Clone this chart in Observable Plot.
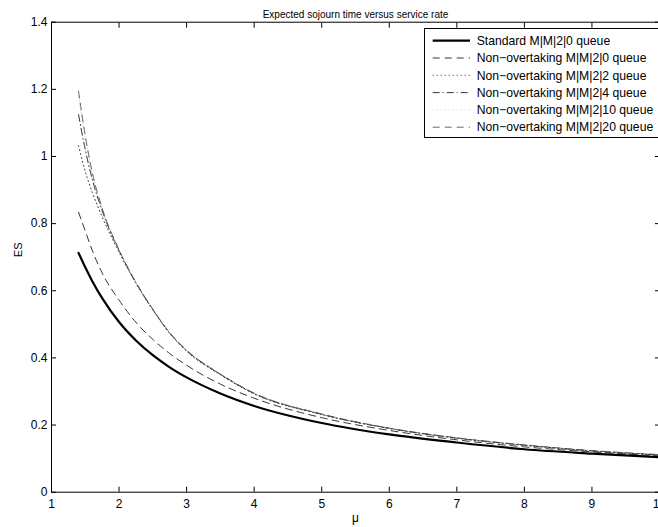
<!DOCTYPE html>
<html><head><meta charset="utf-8">
<script src="https://cdn.jsdelivr.net/npm/d3@7"></script>
<script src="https://cdn.jsdelivr.net/npm/@observablehq/plot@0.6"></script>
<style>html,body{margin:0;padding:0;background:#fff;overflow:hidden} svg{display:block}</style>
</head><body><div id="chart"></div>
<script>
// ---- data ----
const title = "Expected sojourn time versus service rate";
const xLabel = "μ";
const yLabel = "ES";
const xTicks = [1, 2, 3, 4, 5, 6, 7, 8, 9, 10];
const yTicks = [0, 0.2, 0.4, 0.6, 0.8, 1, 1.2, 1.4];
const seriesNames = [
  "Standard M|M|2|0 queue",
  "Non\u2212overtaking M|M|2|0 queue",
  "Non\u2212overtaking M|M|2|2 queue",
  "Non\u2212overtaking M|M|2|4 queue",
  "Non\u2212overtaking M|M|2|10 queue",
  "Non\u2212overtaking M|M|2|20 queue"
];
const mu = [1.4, 1.5, 1.6, 1.75, 2, 2.25, 2.5, 2.75, 3, 3.5, 4, 5, 6, 7, 8, 9, 10];
const esStandard = [0.713, 0.670, 0.630, 0.578, 0.507, 0.452, 0.408, 0.372, 0.342, 0.294, 0.257, 0.206, 0.172, 0.148, 0.128, 0.115, 0.104];
const esNO0  = [0.834, 0.778, 0.722, 0.653, 0.572, 0.506, 0.455, 0.413, 0.378, 0.322, 0.280, 0.222, 0.184, 0.156, 0.135, 0.120, 0.108];
const esNO2  = [1.032, 0.955, 0.895, 0.820, 0.715, 0.622, 0.543, 0.473, 0.420, 0.350, 0.293, 0.231, 0.190, 0.161, 0.140, 0.123, 0.111];
const esNO4  = [1.125, 1.020, 0.935, 0.838, 0.720, 0.624, 0.544, 0.474, 0.422, 0.351, 0.294, 0.232, 0.190, 0.161, 0.140, 0.123, 0.111];
const esNO10 = [1.180, 1.055, 0.952, 0.845, 0.722, 0.625, 0.545, 0.475, 0.423, 0.352, 0.295, 0.233, 0.191, 0.162, 0.141, 0.124, 0.112];
const esNO20 = [1.195, 1.062, 0.956, 0.846, 0.722, 0.625, 0.545, 0.475, 0.423, 0.352, 0.295, 0.233, 0.191, 0.162, 0.141, 0.124, 0.112];
const seriesValues = [esStandard, esNO0, esNO2, esNO4, esNO10, esNO20];

// ---- styles ----
const styles = [
  {stroke: "#000", width: 2.2, dash: null},
  {stroke: "#000", width: 0.8, dash: "7,5"},
  {stroke: "#000", width: 0.8, dash: "1,3"},
  {stroke: "#000", width: 0.8, dash: "7,3,1,3"},
  {stroke: "#bbb", width: 0.8, dash: "1,3"},
  {stroke: "#444", width: 0.8, dash: "7,5"}
];
const FONT = "'Liberation Sans', Arial, Helvetica, sans-serif";

const rows = [];
seriesNames.forEach((s, i) => mu.forEach((m, j) => rows.push({series: s, mu: m, es: seriesValues[i][j]})));

const W = 658, H = 527;
const plot = Plot.plot({
  width: W, height: H,
  marginLeft: 51, marginRight: -1, marginTop: 21.7, marginBottom: 35.3,
  x: {domain: [1, 10]},
  y: {domain: [0, 1.4]},
  style: {fontFamily: FONT, fontSize: "12px", background: "white", color: "black", overflow: "visible"},
  marks: [
    ...seriesNames.map((s, i) => Plot.line(rows.filter(r => r.series === s), {
      x: "mu", y: "es", stroke: styles[i].stroke, strokeWidth: styles[i].width,
      strokeDasharray: styles[i].dash, curve: "monotone-x"
    })),
    Plot.frame({stroke: "black", strokeWidth: 1}),
    // inward ticks
    Plot.axisX(xTicks, {anchor: "bottom", tickSize: 5, dy: -5, tickFormat: () => "", label: null}),
    Plot.axisX(xTicks, {anchor: "top", tickSize: 5, dy: 5, tickFormat: () => "", label: null}),
    Plot.axisY(yTicks, {anchor: "left", tickSize: 5, dx: 5, tickFormat: () => "", label: null}),
    Plot.axisY(yTicks, {anchor: "right", tickSize: 5, dx: -5, tickFormat: () => "", label: null}),
    // tick labels
    Plot.axisX(xTicks, {anchor: "bottom", tickSize: 0, tickPadding: 7, tickFormat: d => String(d), label: null, fontSize: 12}),
    Plot.axisY(yTicks, {anchor: "left", tickSize: 0, tickPadding: 4, tickFormat: d => String(d), label: null, fontSize: 12}),
    // titles
    Plot.text([xLabel], {frameAnchor: "bottom", dy: 21, lineAnchor: "top", fontSize: 12}),
    Plot.text([yLabel], {frameAnchor: "left", dx: -33, rotate: -90, fontSize: 11}),
    Plot.text([title], {frameAnchor: "top", dy: -11, fontSize: 10})
  ]
});

// ---- legend ----
const svg = d3.select(plot);
const lg = svg.append("g").attr("font-family", FONT).attr("font-size", 12.2).attr("text-anchor", "start");
lg.append("rect").attr("x", 424.5).attr("y", 28.5).attr("width", 245).attr("height", 109)
  .attr("fill", "white").attr("stroke", "black").attr("stroke-width", 1);
seriesNames.forEach((name, i) => {
  const y = 40.7 + i * 17.3;
  lg.append("line").attr("x1", 432.7).attr("x2", 470).attr("y1", y).attr("y2", y)
    .attr("stroke", styles[i].stroke).attr("stroke-width", styles[i].width)
    .attr("stroke-dasharray", styles[i].dash);
  lg.append("text").attr("x", 476.7).attr("y", y).attr("dy", "0.35em")
    .attr("text-anchor", "start").attr("fill", "black").text(name);
});

document.getElementById("chart").appendChild(plot);
</script>
</body></html>
